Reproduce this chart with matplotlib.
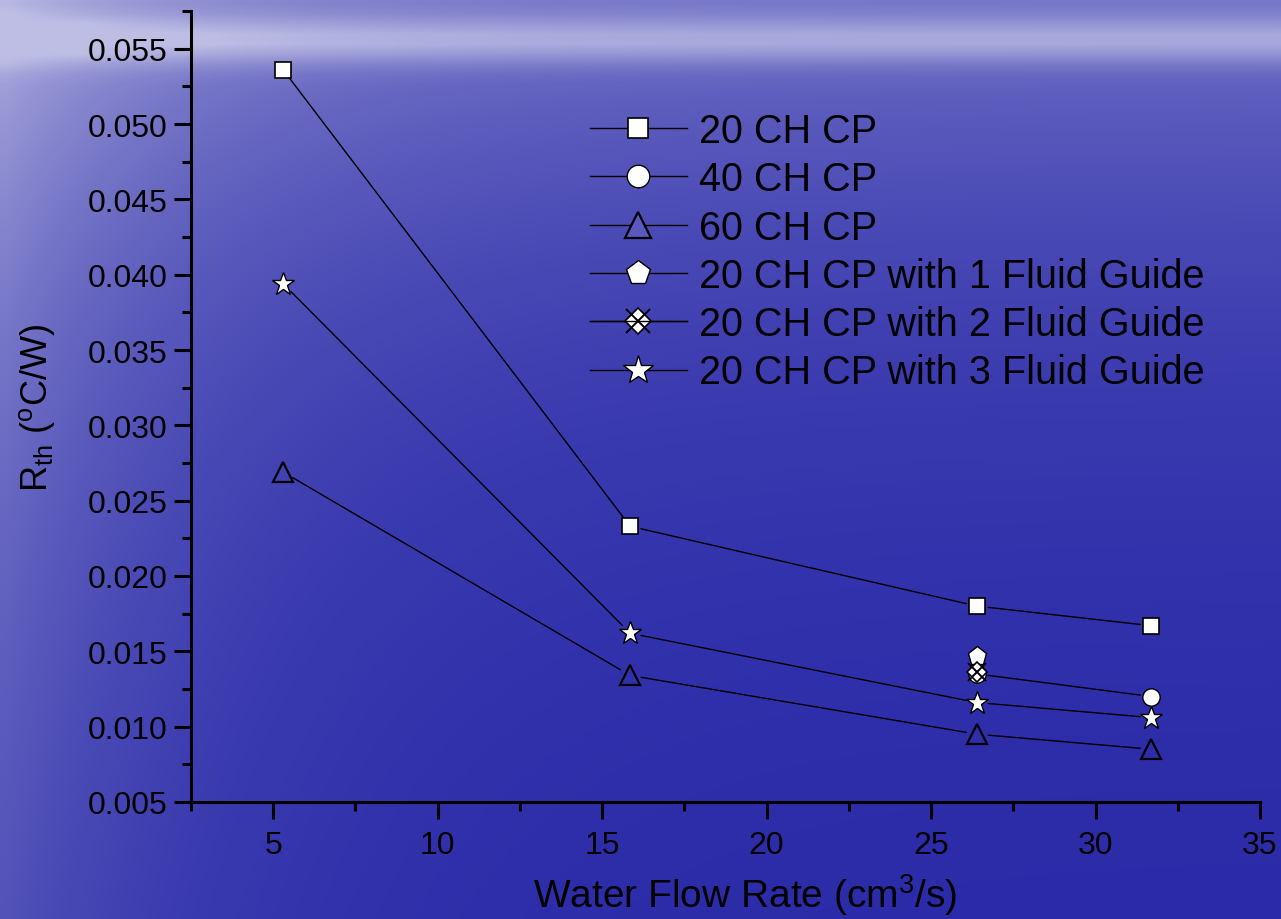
import matplotlib
matplotlib.use('Agg')
import matplotlib.pyplot as plt
from matplotlib.lines import Line2D
from matplotlib.legend_handler import HandlerTuple
import numpy as np

plt.rcParams['font.family'] = ['Liberation Sans', 'DejaVu Sans']
plt.rcParams['mathtext.fontset'] = 'custom'
plt.rcParams['mathtext.rm'] = 'Liberation Sans'
plt.rcParams['mathtext.it'] = 'Liberation Sans:italic'

# data
flow = [5.3, 15.85, 26.4, 31.7]
rth_20ch = [0.0536, 0.0233, 0.0180, 0.0167]
flow_40ch = [26.4, 31.7]
rth_40ch = [0.0135, 0.0120]
rth_60ch = [0.0269, 0.0134, 0.0095, 0.0085]
flow_guide = [26.4]
rth_guide1 = [0.0147]
rth_guide2 = [0.0136]
rth_guide3 = [0.0394, 0.0162, 0.0116, 0.0106]

labels = ['20 CH CP', '40 CH CP', '60 CH CP',
          '20 CH CP with 1 Fluid Guide', '20 CH CP with 2 Fluid Guide',
          '20 CH CP with 3 Fluid Guide']

fig = plt.figure(figsize=(12.81, 9.2), dpi=100)

# sea-like blue background
bg = fig.add_axes([0, 0, 1, 1], zorder=-10)
H, W = 92, 128
v, u = np.mgrid[0:1:H * 1j, 0:1:W * 1j]
t = 0.45 * np.exp(-v / 0.3) + 0.4 * np.exp(-((v - 0.04) / 0.025) ** 2)
t = t + 0.4 * np.exp(-u / 0.15) * (1 - 0.4 * v)
t = np.clip(t, 0, 0.92)
dark = np.array([0.16, 0.16, 0.66])
light = np.array([0.80, 0.80, 0.92])
img = dark[None, None, :] * (1 - t[..., None]) + light[None, None, :] * t[..., None]
bg.imshow(img, aspect='auto', interpolation='bilinear', extent=[0, 1, 0, 1])
bg.axis('off')

ax = fig.add_axes([191 / 1281, 1 - 803 / 920, (1260 - 191) / 1281, (803 - 12) / 920])
ax.patch.set_alpha(0)

gap = 8


def connect(xs, ys):
    for i in range(len(xs) - 1):
        ax.annotate('', xy=(xs[i + 1], ys[i + 1]), xytext=(xs[i], ys[i]),
                    arrowprops=dict(arrowstyle='-', color='black', lw=1.0,
                                    shrinkA=gap, shrinkB=gap), zorder=2)


connect(flow, rth_20ch)
connect(flow_40ch, rth_40ch)
connect(flow, rth_60ch)
connect(flow, rth_guide3)

sq = dict(marker='s', ms=11, mfc='white', mec='black', mew=1.2, ls='none')
ci = dict(marker='o', ms=12.5, mfc='white', mec='black', mew=1.0, ls='none')
tr = dict(marker='^', ms=14, mfc='none', mec='black', mew=1.6, ls='none')
pe = dict(marker='p', ms=14, mfc='white', mec='black', mew=1.0, ls='none')
di = dict(marker='D', ms=10, mfc='white', mec='black', mew=1.2, ls='none')
xx = dict(marker='x', ms=13, mec='black', mew=1.4, ls='none')
st = dict(marker='*', ms=17, mfc='white', mec='black', mew=1.0, ls='none')

ax.plot(flow, rth_20ch, zorder=3, **sq)
ax.plot(flow_40ch, rth_40ch, zorder=3, **ci)
ax.plot(flow, rth_60ch, zorder=3, **tr)
ax.plot(flow_guide, rth_guide1, zorder=3, **pe)
ax.plot(flow_guide, rth_guide2, zorder=4, **di)
ax.plot(flow_guide, rth_guide2, zorder=5, **xx)
ax.plot(flow, rth_guide3, zorder=3, **st)

ax.set_xlim(2.5, 35)
ax.set_ylim(0.005, 0.0575)
ax.set_xticks([5, 10, 15, 20, 25, 30, 35])
ax.set_xticks(np.arange(2.5, 35.1, 2.5), minor=True)
ax.set_yticks(np.arange(0.005, 0.0551, 0.005))
ax.set_yticks(np.arange(0.005, 0.0576, 0.0025), minor=True)
ax.yaxis.set_major_formatter(plt.FormatStrFormatter('%.3f'))

for s in ['top', 'right']:
    ax.spines[s].set_visible(False)
for s in ['left', 'bottom']:
    ax.spines[s].set_linewidth(2.2)
ax.tick_params(which='major', length=12, width=2.2, labelsize=23)
ax.tick_params(which='minor', length=6.5, width=2.2)
ax.tick_params(axis='y', which='major', pad=5)
ax.tick_params(axis='x', which='major', pad=8)

ax.set_xlabel('Water Flow Rate (cm$^{3}$/s)', fontsize=28)
ax.xaxis.set_label_coords(0.518, -0.088)
ax.set_ylabel(r'R$_{\rm th}$ ($^{\rm o}$C/W)', fontsize=26, labelpad=22)

# legend proxies
def proxy(style):
    d = dict(style)
    d.pop('ls')
    return Line2D([], [], color='black', lw=1.0, **d)

tr_leg = dict(tr)
tr_leg['mfc'] = '#5a5abe'
handles = [proxy(sq), proxy(ci), proxy(tr_leg), proxy(pe),
           (proxy(di), proxy(xx)), proxy(st)]
leg = ax.legend(handles, labels,
                handler_map={tuple: HandlerTuple(ndivide=1, pad=0)},
                loc='upper left', bbox_to_anchor=(590 / 1281, 1 - 113 / 920),
                bbox_transform=fig.transFigure, frameon=False, fontsize=28.5,
                markerscale=1.3, handlelength=2.45, handletextpad=0.3,
                labelspacing=0.26, borderpad=0, borderaxespad=0)

fig.savefig('out.png', dpi=100)
